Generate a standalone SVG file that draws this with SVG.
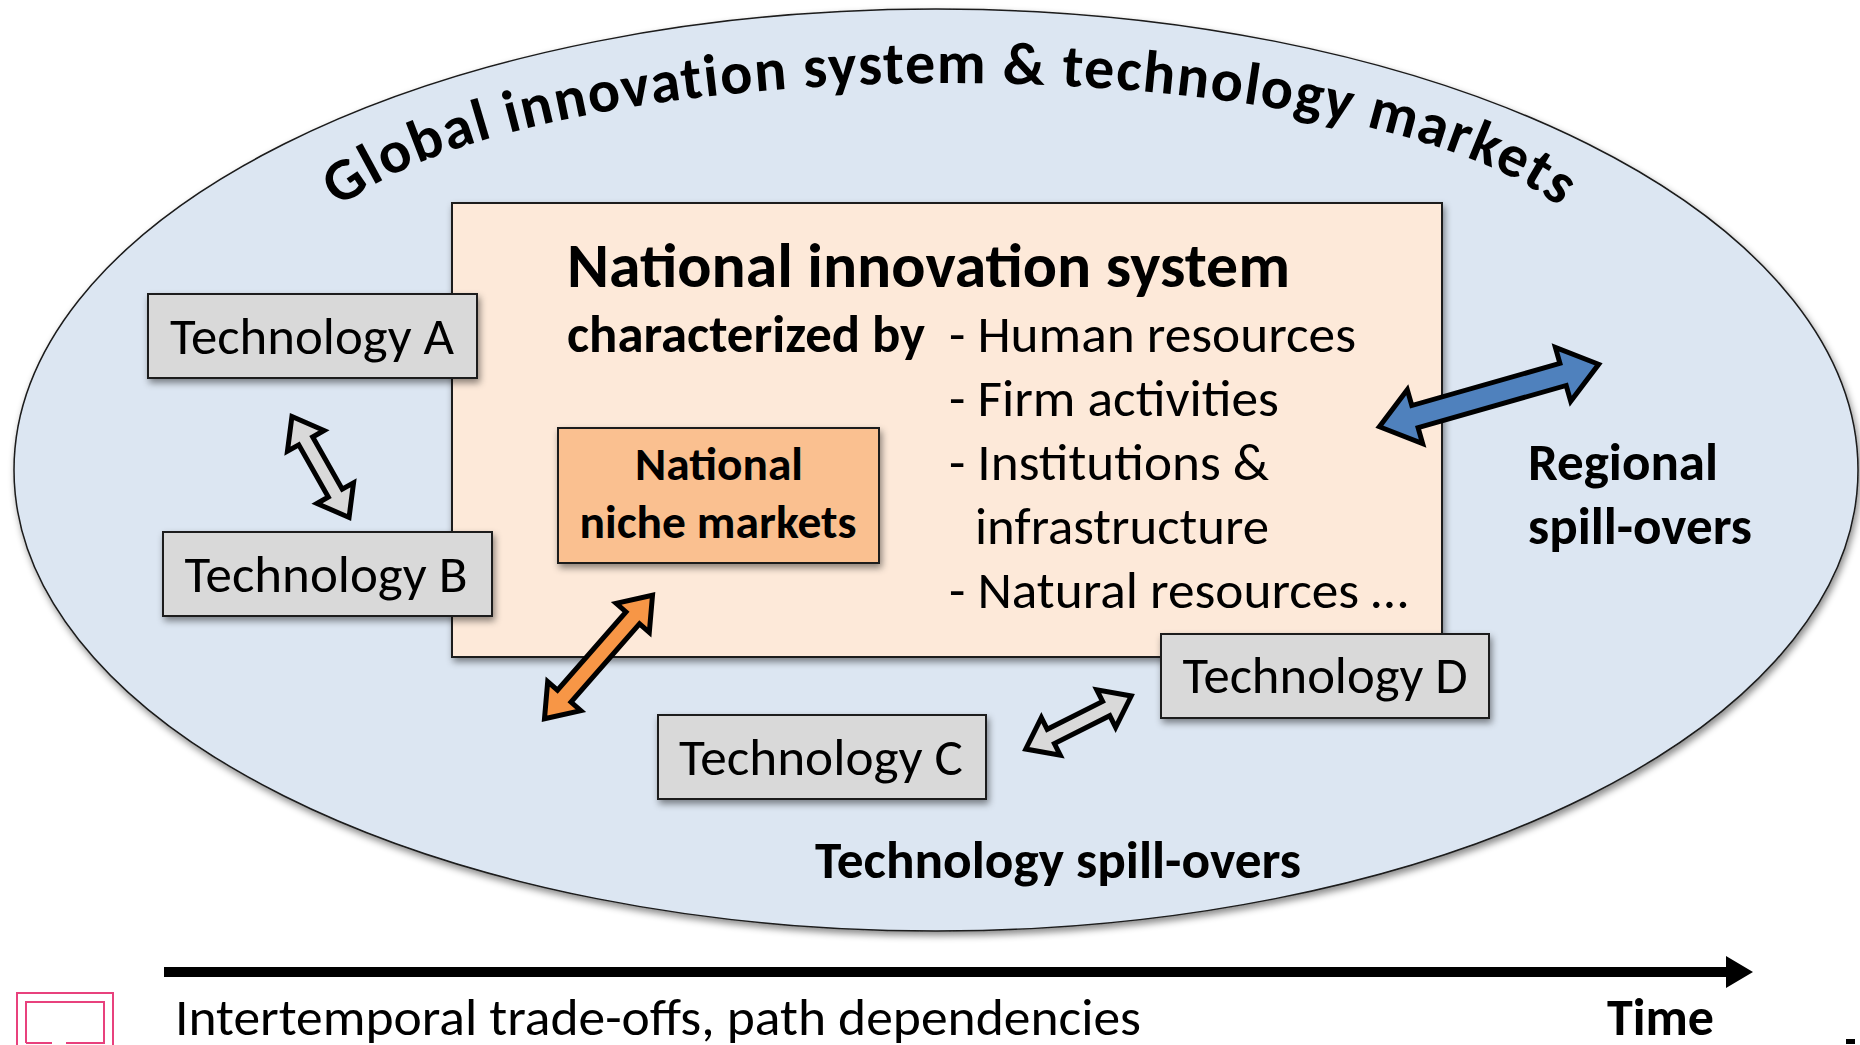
<svg xmlns="http://www.w3.org/2000/svg" width="1860" height="1045" viewBox="0 0 1860 1045">
  <style>
    text { font-family: Carlito, Calibri, Lato, "Liberation Sans", sans-serif; fill: #000; }
    .reg { font-size: 52px; font-weight: 400; }
    .bold { font-size: 52px; font-weight: 700; }
    .tech rect { fill: #d9d9d9; stroke: #1a1a1a; stroke-width: 2; }
    .arrow { stroke: #000; stroke-width: 5; stroke-linejoin: miter; stroke-miterlimit: 4; }
  </style>
  <defs>
    <filter id="shadow" x="-10%" y="-10%" width="120%" height="130%">
      <feDropShadow dx="2" dy="4" stdDeviation="3.5" flood-color="#000" flood-opacity="0.45"/>
    </filter>
    <!-- baseline of the arched heading -->
    <path id="globalArc" d="M 310 245 A 645 185 0 0 1 1590 245" fill="none"/>
  </defs>

  <rect width="1860" height="1045" fill="#fff"/>

  <!-- outer ellipse: global system -->
  <g id="global-system">
    <ellipse cx="936" cy="470" rx="922" ry="461" fill="#dce6f2" stroke="#1a1a1a" stroke-width="1.5" filter="url(#shadow)"/>
    <text style="font-size:60px;font-weight:700" letter-spacing="1.6">
      <textPath href="#globalArc" startOffset="50%" text-anchor="middle">Global innovation system &amp; technology markets</textPath>
    </text>
  </g>

  <!-- national innovation system box -->
  <g id="national-system">
    <rect x="452" y="203" width="990" height="454" fill="#fde9d9" stroke="#1a1a1a" stroke-width="2" filter="url(#shadow)"/>
    <text x="567" y="287" style="font-size:62px;font-weight:700" textLength="723" lengthAdjust="spacingAndGlyphs">National innovation system</text>
    <text class="bold" x="567" y="352" textLength="358" lengthAdjust="spacingAndGlyphs">characterized by</text>
    <text class="reg" x="949" y="352" textLength="407" lengthAdjust="spacingAndGlyphs">- Human resources</text>
    <text class="reg" x="949" y="416" textLength="330" lengthAdjust="spacingAndGlyphs">- Firm activities</text>
    <text class="reg" x="949" y="480" textLength="320" lengthAdjust="spacingAndGlyphs">- Institutions &amp;</text>
    <text class="reg" x="975" y="544" textLength="294" lengthAdjust="spacingAndGlyphs">infrastructure</text>
    <text class="reg" x="949" y="608" textLength="459" lengthAdjust="spacingAndGlyphs">- Natural resources …</text>
  </g>

  <!-- national niche markets -->
  <g id="niche-markets">
    <rect x="558" y="428" width="321" height="135" fill="#fac090" stroke="#1a1a1a" stroke-width="2" filter="url(#shadow)"/>
    <text x="719" y="480" text-anchor="middle" style="font-size:47px;font-weight:700" textLength="168" lengthAdjust="spacingAndGlyphs">National</text>
    <text x="718" y="538" text-anchor="middle" style="font-size:47px;font-weight:700" textLength="277" lengthAdjust="spacingAndGlyphs">niche markets</text>
  </g>

  <!-- technologies -->
  <g id="tech-a" class="tech">
    <rect x="148" y="294" width="329" height="84" filter="url(#shadow)"/>
    <text class="reg" x="312" y="354" text-anchor="middle" textLength="284" lengthAdjust="spacingAndGlyphs">Technology A</text>
  </g>
  <g id="tech-b" class="tech">
    <rect x="163" y="532" width="329" height="84" filter="url(#shadow)"/>
    <text class="reg" x="326" y="592" text-anchor="middle" textLength="283" lengthAdjust="spacingAndGlyphs">Technology B</text>
  </g>
  <g id="tech-c" class="tech">
    <rect x="658" y="715" width="328" height="84" filter="url(#shadow)"/>
    <text class="reg" x="821" y="775" text-anchor="middle" textLength="284" lengthAdjust="spacingAndGlyphs">Technology C</text>
  </g>
  <g id="tech-d" class="tech">
    <rect x="1161" y="634" width="328" height="84" filter="url(#shadow)"/>
    <text class="reg" x="1325" y="693" text-anchor="middle" textLength="285" lengthAdjust="spacingAndGlyphs">Technology D</text>
  </g>

  <!-- labels -->
  <g id="regional-label">
    <text class="bold" x="1528" y="480" textLength="190" lengthAdjust="spacingAndGlyphs">Regional</text>
    <text class="bold" x="1528" y="544" textLength="224" lengthAdjust="spacingAndGlyphs">spill-overs</text>
  </g>
  <g id="tech-spillover-label">
    <text class="bold" x="815" y="878" textLength="486" lengthAdjust="spacingAndGlyphs">Technology spill-overs</text>
  </g>

  <!-- double-headed block arrows -->
  <g id="connectors">
    <!-- A <-> B -->
    <path class="arrow" fill="#d9d9d9" transform="translate(320.5 467) rotate(60.5)"
          d="M -58 0 L -30 -21 L -30 -8 L 30 -8 L 30 -21 L 58 0 L 30 21 L 30 8 L -30 8 L -30 21 Z"/>
    <!-- C <-> D -->
    <path class="arrow" fill="#d9d9d9" transform="translate(1078.5 722.5) rotate(-26.7)"
          d="M -59 0 L -31 -21 L -31 -8 L 31 -8 L 31 -21 L 59 0 L 31 21 L 31 8 L -31 8 L -31 21 Z"/>
    <!-- niche markets <-> outside -->
    <path class="arrow" fill="#f79646" transform="translate(598.5 657) rotate(-48.8)"
          d="M -82 0 L -52 -22 L -52 -9 L 52 -9 L 52 -22 L 82 0 L 52 22 L 52 9 L -52 9 L -52 22 Z"/>
    <!-- regional spill-overs -->
    <path class="arrow" fill="#4f81bd" transform="translate(1489 395.5) rotate(-15.9)"
          d="M -114 0 L -77 -28 L -77 -11.5 L 77 -11.5 L 77 -28 L 114 0 L 77 28 L 77 11.5 L -77 11.5 L -77 28 Z"/>
  </g>

  <!-- time axis -->
  <g id="timeline">
    <rect x="164" y="967" width="1564" height="10" fill="#000"/>
    <polygon points="1726,956 1753,972 1726,988" fill="#000"/>
    <text class="reg" x="175" y="1035" textLength="966" lengthAdjust="spacingAndGlyphs">Intertemporal trade-offs, path dependencies</text>
    <text class="bold" x="1607" y="1035" textLength="107" lengthAdjust="spacingAndGlyphs">Time</text>
  </g>

  <!-- corner marks -->
  <g id="corner-marks">
    <path d="M 17 1045 V 993 H 113 V 1045" fill="none" stroke="#e8417d" stroke-width="2"/>
    <path d="M 26 1043 V 1002 H 104 V 1043 H 66 M 52 1043 H 26" fill="none" stroke="#e8417d" stroke-width="2"/>
    <rect x="1846" y="1039" width="9" height="5" fill="#000"/>
  </g>
</svg>
